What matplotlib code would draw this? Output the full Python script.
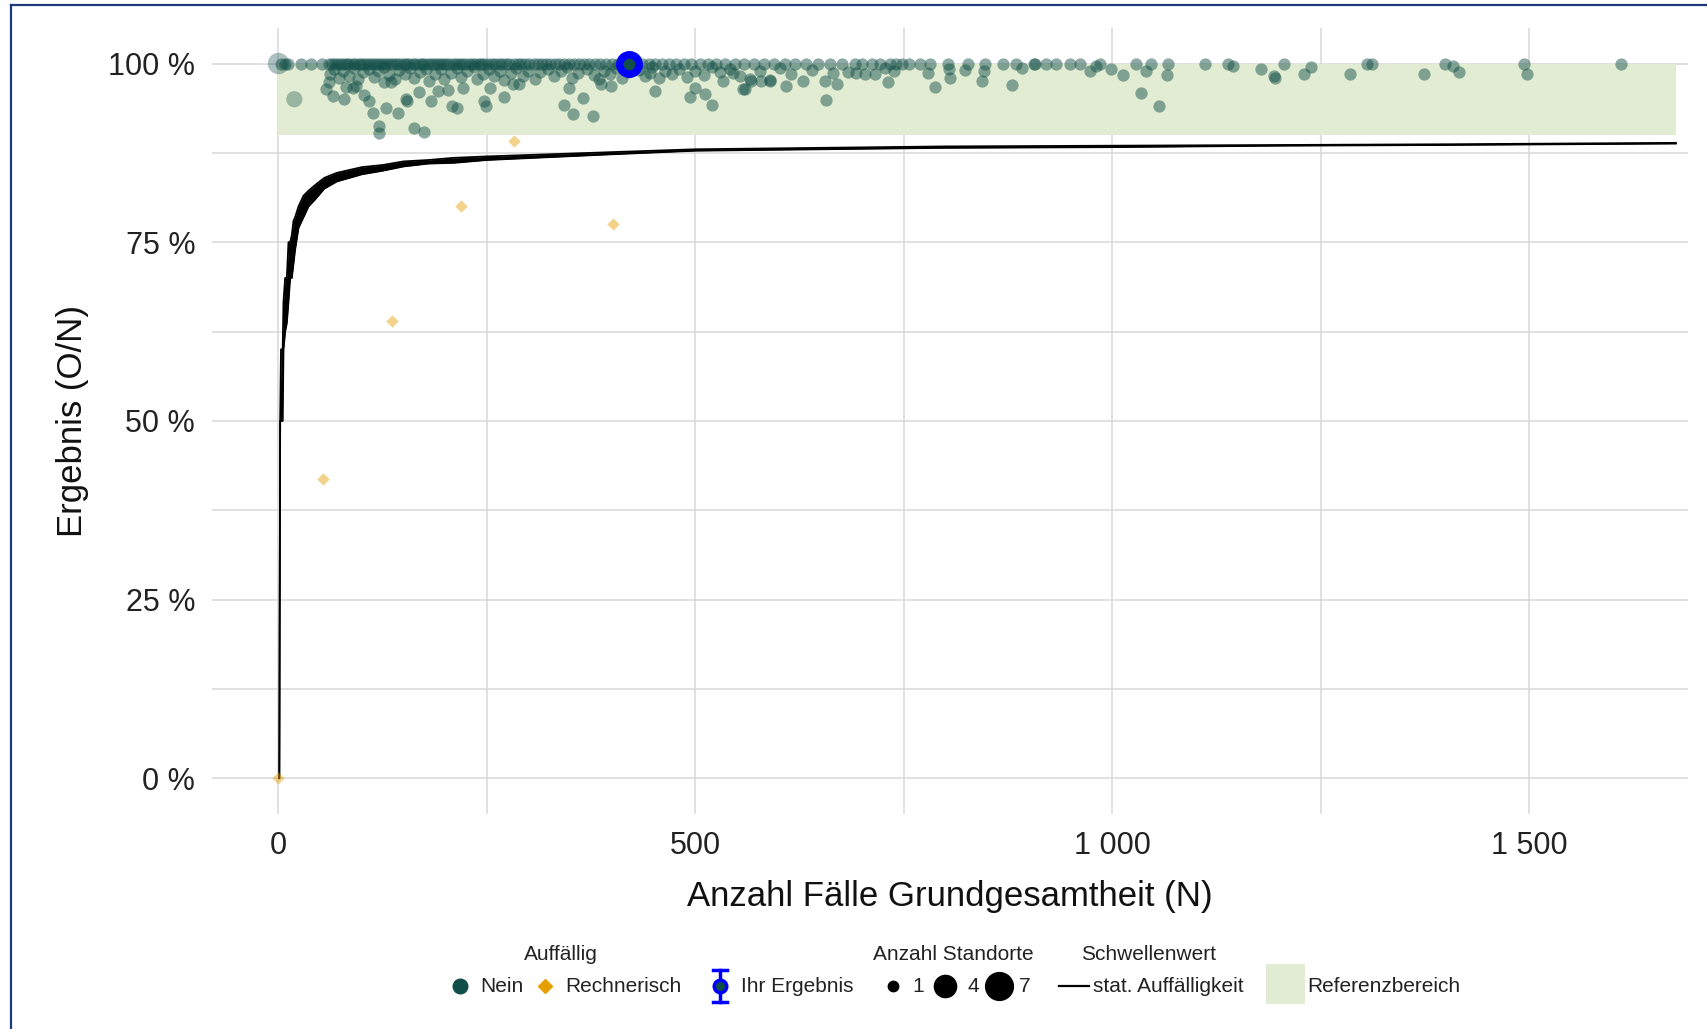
import matplotlib
matplotlib.use("Agg")
import matplotlib.pyplot as plt
from matplotlib.lines import Line2D
from matplotlib.patches import Rectangle

plt.rcParams['font.family'] = ['Liberation Sans', 'DejaVu Sans']

# --- data ---
# Nein, 1 Standort, at 100 %
n_100 = [3, 8, 12, 27, 39, 52, 60, 64, 68, 71, 75, 78, 82, 85, 89, 92, 96, 99, 103, 106,
         110, 113, 117, 121, 124, 128, 131, 135, 139, 142, 146, 150, 153, 157, 161, 164,
         168, 172, 175, 179, 183, 186, 190, 194, 197, 201, 205, 209, 213, 216, 220, 224,
         228, 232, 236, 240, 243, 247, 251, 256, 260, 264, 268, 273, 277, 282, 287, 291,
         296, 301, 306, 311, 316, 321, 326, 332, 337, 343, 349, 355, 361, 367, 373, 380,
         386, 393, 400, 407, 414, 428, 436, 444, 452, 460, 468, 477, 486, 495, 505, 515,
         525, 536, 547, 558, 570, 582, 594, 607, 620, 633, 647, 661, 676, 691, 700, 712,
         722, 733, 741, 748, 756, 769, 781, 803, 827, 847, 869, 885, 907, 921, 933, 949,
         961, 985, 1029, 1047, 1067, 1111, 1139, 1206, 1306, 1312, 1399, 1494, 1610]

# Nein, 1 Standort, below 100 %
n_unter = [62, 66, 72, 77, 84, 90, 95, 101, 108, 114, 119, 126, 133, 140, 145, 152, 158,
           163, 170, 177, 181, 188, 195, 199, 207, 214, 219, 226, 234, 238, 245, 253, 258,
           266, 271, 279, 285, 293, 299, 308, 314, 323, 330, 339, 346, 352, 359, 370, 378,
           384, 391, 398, 405, 412, 419, 432, 440, 448, 456, 464, 472, 480, 490, 500, 510,
           520, 530, 542, 553, 565, 577, 590, 601, 615, 640, 665, 683, 693, 703, 715, 727,
           738, 779, 804, 824, 846, 892, 906, 973, 980, 999, 1013, 1040, 1066, 1145, 1178,
           1194, 1195, 1230, 1238, 1285, 1374, 1409, 1416, 1498,
           57, 61, 65, 78, 81, 89, 93, 103, 109, 113, 121, 121, 127, 129, 135, 143, 153,
           154, 163, 169, 175, 183, 191, 203, 208, 214, 221, 247, 249, 254, 271, 281, 289,
           342, 349, 353, 365, 377, 387, 399, 446, 451, 493, 499, 512, 520, 533, 545, 557,
           559, 567, 579, 589, 609, 629, 655, 657, 670, 731, 787, 805, 844, 880, 1034, 1056]
pct_unter = [98.5, 99.2, 98.0, 99.0, 98.3, 99.4, 97.8, 98.8, 99.3, 98.1, 98.9, 99.5, 98.4,
             97.9, 99.1, 98.6, 99.4, 98.0, 98.8, 99.3, 97.6, 98.5, 99.2, 97.9, 98.7, 99.4,
             98.1, 98.9, 99.5, 97.8, 98.6, 99.2, 98.2, 99.0, 97.7, 98.7, 99.4, 98.3, 99.0,
             97.9, 98.8, 99.3, 98.2, 98.9, 99.5, 98.0, 98.7, 99.2, 98.4, 97.8, 99.0, 98.5,
             99.4, 98.0, 98.8, 99.1, 98.3, 99.5, 98.0, 99.0, 98.6, 99.3, 98.1, 99.0, 98.4,
             99.5, 98.8, 99.3, 98.2, 97.8, 99.0, 97.7, 99.4, 98.5, 99.1, 98.7, 98.8, 98.7,
             98.5, 98.6, 99.4, 99.0, 98.7, 99.2, 99.1, 98.9, 99.4, 99.9, 99.0, 99.6, 99.2,
             98.4, 98.9, 98.4, 99.7, 99.3, 98.3, 98.0, 98.6, 99.5, 98.6, 98.6, 99.7, 98.8,
             98.6,
             96.4, 97.4, 95.5, 95.0, 96.7, 96.6, 96.9, 95.6, 94.7, 93.1, 91.2, 90.3, 97.4,
             93.8, 97.4, 93.1, 95.0, 94.8, 91.0, 96.0, 90.4, 94.7, 96.1, 96.3, 94.0, 93.8,
             96.6, 94.7, 94.0, 96.6, 95.3, 97.1, 97.1, 94.2, 96.6, 93.0, 95.2, 92.6, 97.1,
             96.8, 98.7, 96.1, 95.3, 96.6, 95.7, 94.2, 97.5, 98.7, 96.4, 96.5, 97.5, 97.6,
             97.5, 96.8, 97.5, 97.5, 94.9, 97.2, 97.4, 96.7, 98.0, 97.5, 97.0, 95.9, 94.0]

# Nein, several Standorte
gross_n = [0, 19]
gross_pct = [100, 95]
gross_anzahl = [7, 4]

# Auffällig: Rechnerisch
rech_n = [0, 53, 136, 219, 282, 401]
rech_pct = [0, 41.9, 64.0, 80.0, 89.1, 77.6]

# Ihr Ergebnis
ihr_n = [420]
ihr_pct = [100]

# Schwellenwert (stat. Auffälligkeit), lower / upper edge of the zigzag
thr_n = [1, 2, 3, 4, 5, 6, 8, 10, 12, 14, 16, 18, 20, 24, 30, 36, 44, 55, 70, 85, 100,
         125, 150, 180, 210, 250, 325, 400, 500, 650, 800, 1000, 1200, 1400, 1676]
thr_lo = [0, 50, 50, 50, 50, 60, 62.5, 63.7, 66.7, 70, 70, 72, 74, 77, 78.5, 80, 81, 82.5,
          83.5, 84, 84.5, 85, 85.6, 86, 86.1, 86.5, 86.9, 87.3, 87.8, 88.0, 88.2, 88.3,
          88.5, 88.6, 88.8]
thr_hi = [0, 50, 60, 60, 60, 66.7, 70, 70, 75, 75, 76, 78, 78.5, 80, 81.5, 82.2, 83, 84,
          84.7, 85.1, 85.5, 85.8, 86.3, 86.5, 86.8, 87.0, 87.3, 87.6, 88.0, 88.2, 88.4,
          88.5, 88.6, 88.7, 88.9]

# Referenzbereich
ref_n = [0, 1676]
ref_lo = 90
ref_hi = 100

x_ticks = [0, 500, 1000, 1500]
x_labels = ["0", "500", "1 000", "1 500"]
y_ticks = [0, 25, 50, 75, 100]
y_labels = ["0 %", "25 %", "50 %", "75 %", "100 %"]

GREEN = "#114e48"
ORANGE = "#e69f00"
BAND = "#e2ecd2"
GRID = "#d9d9d9"

fig = plt.figure(figsize=(17.08, 10.29), dpi=100)
ax = fig.add_axes([0.124, 0.209, 0.864, 0.764])

ax.fill_between(ref_n, ref_lo, ref_hi, color=BAND, lw=0, zorder=1)
ax.set_xticks([250, 750, 1250], minor=True)
ax.set_yticks([12.5, 37.5, 62.5, 87.5], minor=True)
ax.grid(True, which="both", color=GRID, lw=1.1, zorder=0)
ax.set_axisbelow(True)

ax.fill_between(thr_n, thr_lo, thr_hi, color="black", lw=0, zorder=2)
ax.plot(thr_n, thr_lo, color="black", lw=1.3, zorder=2)
ax.plot(thr_n, thr_hi, color="black", lw=1.3, zorder=2)

ax.scatter(rech_n, rech_pct, marker="D", s=40, color=ORANGE, alpha=0.45, lw=0, zorder=3)
ax.scatter(n_100, [100] * len(n_100), s=78, color=GREEN, alpha=0.48, lw=0, zorder=3)
ax.scatter(n_unter, pct_unter, s=78, color=GREEN, alpha=0.48, lw=0, zorder=3)
ax.scatter(gross_n, gross_pct, s=[a * 34 for a in gross_anzahl], color=GREEN,
           alpha=0.35, lw=0, zorder=3)
ax.plot(ihr_n, ihr_pct, "o", ms=14, mfc=GREEN, mec="#0000ff", mew=5.4, zorder=4)

ax.set_xlim(-80, 1690)
ax.set_ylim(-5, 105)
ax.set_xticks(x_ticks)
ax.set_xticklabels(x_labels)
ax.set_yticks(y_ticks)
ax.set_yticklabels(y_labels)
ax.tick_params(which="both", length=0, labelsize=22, labelcolor="#222222", pad=12)
for s in ax.spines.values():
    s.set_visible(False)
ax.set_xlabel("Anzahl Fälle Grundgesamtheit (N)", fontsize=25, color="#111111", labelpad=14)
ax.set_ylabel("Ergebnis (O/N)", fontsize=25, color="#111111", labelpad=14)

# --- legend, drawn in pixel coordinates ---
lg = fig.add_axes([0, 0, 1, 1], zorder=-1)
lg.set_xlim(0, 1708)
lg.set_ylim(1029, 0)
lg.axis("off")
fs = 15
ty, iy = 955, 986
lg.text(561, ty, "Auffällig", ha="center", va="center", fontsize=fs, color="#222222")
lg.text(953, ty, "Anzahl Standorte", ha="center", va="center", fontsize=fs, color="#222222")
lg.text(1149, ty, "Schwellenwert", ha="center", va="center", fontsize=fs, color="#222222")

lg.plot([460], [iy], "o", ms=10.5, color=GREEN)
lg.text(480, iy, "Nein", va="center", fontsize=fs, color="#222222")
lg.plot([545], [iy], "D", ms=7.5, color=ORANGE)
lg.text(565, iy, "Rechnerisch", va="center", fontsize=fs, color="#222222")
lg.plot([720, 720], [970, 1002], color="#0000ff", lw=2.5)
lg.plot([713, 727], [970, 970], color="#0000ff", lw=2.5)
lg.plot([713, 727], [1002, 1002], color="#0000ff", lw=2.5)
lg.plot([720], [iy], "o", ms=9, mfc=GREEN, mec="#0000ff", mew=2.5)
lg.text(741, iy, "Ihr Ergebnis", va="center", fontsize=fs, color="#222222")

for x, d, tx, t in [(893, 7.5, 918, "1"), (945, 16, 973, "4"), (999, 20, 1025, "7")]:
    lg.plot([x], [iy], "o", ms=d, color="black")
    lg.text(tx, iy, t, ha="center", va="center", fontsize=fs, color="#222222")

lg.plot([1059, 1089], [iy, iy], color="black", lw=1.6)
lg.text(1093, iy, "stat. Auffälligkeit", va="center", fontsize=fs, color="#222222")
lg.add_patch(Rectangle((1266, 964), 39, 40, color=BAND, lw=0))
lg.text(1307, iy, "Referenzbereich", va="center", fontsize=fs, color="#222222")

# frame lines at left and top
fig.add_artist(Line2D([11 / 1708, 11 / 1708], [0, 1 - 5 / 1029], color="#1f3a7a", lw=1.6))
fig.add_artist(Line2D([11 / 1708, 1], [1 - 5 / 1029, 1 - 5 / 1029], color="#1f3a7a", lw=1.6))

fig.savefig("out.png", dpi=100)
